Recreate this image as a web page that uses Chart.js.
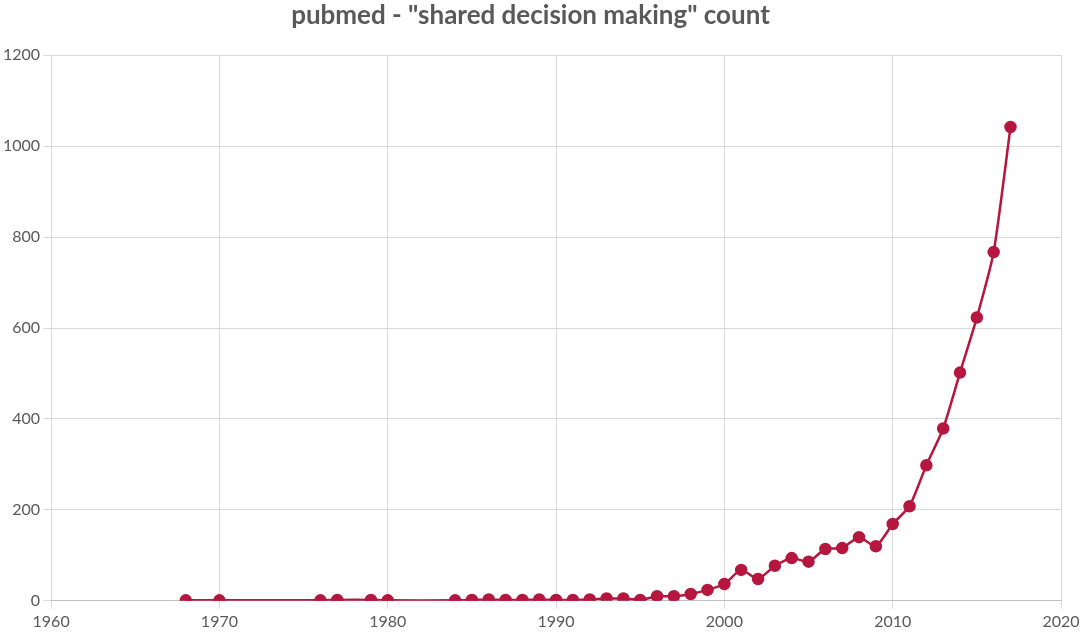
<!DOCTYPE html>
<html>
<head>
<meta charset="utf-8">
<script src="https://cdn.jsdelivr.net/npm/chart.js@4"></script>
<style>
  body { margin: 0; background: #fff; }
</style>
</head>
<body>
<canvas id="chart" width="1087" height="634"></canvas>
<script>
const years = [1968, 1970, 1976, 1977, 1979, 1980, 1984, 1985, 1986, 1987, 1988, 1989, 1990, 1991, 1992, 1993, 1994, 1995,
  1996, 1997, 1998, 1999, 2000, 2001, 2002, 2003, 2004, 2005, 2006, 2007, 2008, 2009, 2010, 2011, 2012, 2013, 2014, 2015, 2016, 2017]
const counts = [1, 1, 1, 2, 2, 1, 1, 2, 3, 2, 2, 3, 2, 2, 3, 5, 5, 2,
  10, 10, 15, 24, 37, 68, 48, 77, 94, 86, 114, 116, 140, 120, 169, 208, 298, 379, 502, 623, 767, 1042]

const points = years.map((y, i) => ({ x: y, y: counts[i] }))
const red = '#b5173f'

new Chart(document.getElementById('chart'), {
  type: 'line',
  data: {
    datasets: [{
      data: points,
      borderColor: red,
      backgroundColor: red,
      borderWidth: 2.5,
      pointRadius: 5,
      pointHoverRadius: 5,
      tension: 0.2
    }]
  },
  options: {
    responsive: false,
    animation: false,
    devicePixelRatio: 1,
    layout: { padding: { left: 0, right: 26, top: 0, bottom: 0 } },
    plugins: {
      legend: { display: false },
      title: {
        display: true,
        text: 'pubmed - "shared decision making" count',
        color: '#595959',
        font: { family: 'Lato', size: 26, weight: 'bold' },
        padding: { top: 0, bottom: 24 }
      }
    },
    scales: {
      x: {
        type: 'linear',
        min: 1960, max: 2020,
        ticks: {
          stepSize: 10, maxRotation: 0, color: '#595959',
          font: { family: 'Lato', size: 16 },
          callback: v => String(v)
        },
        grid: { color: '#d9d9d9' },
        border: { color: '#bfbfbf' }
      },
      y: {
        min: 0, max: 1200,
        ticks: {
          stepSize: 200, color: '#595959',
          font: { family: 'Lato', size: 16 },
          callback: v => String(v)
        },
        grid: { color: '#d9d9d9' },
        border: { display: false }
      }
    }
  }
})
</script>
</body>
</html>
